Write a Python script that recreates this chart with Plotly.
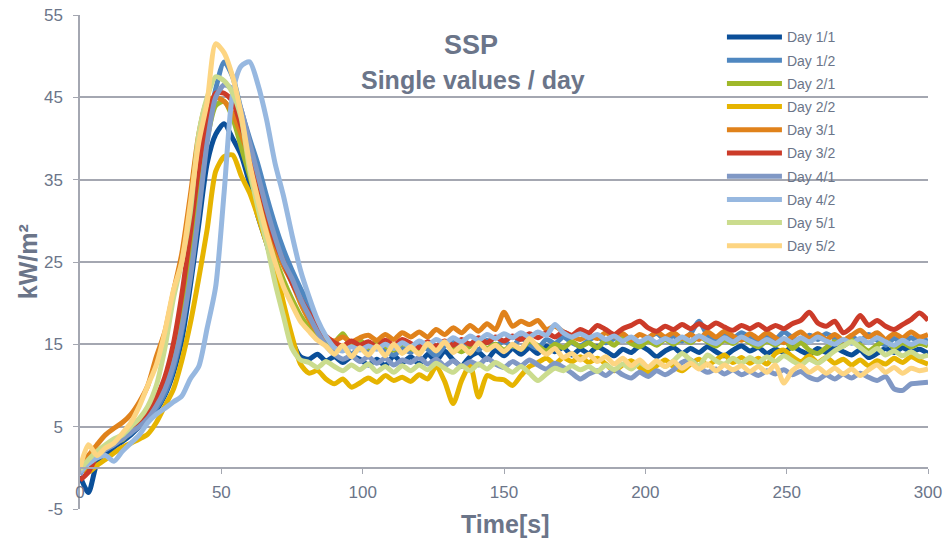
import plotly.graph_objects as go

# ---------------- data ----------------
TIME_S = list(range(0, 301, 3))

SERIES_NAMES = ["Day 1/1", "Day 1/2", "Day 2/1", "Day 2/2", "Day 3/1",
                "Day 3/2", "Day 4/1", "Day 4/2", "Day 5/1", "Day 5/2"]

DAY_1_1 = [
    -1.0, -3.0, 0.5, 1.5, 2.5, 3.2, 4.0, 5.0, 5.8, 7.0,
    8.8, 11.5, 15.5, 22.0, 29.5, 37.0, 40.5, 41.8, 40.0, 38.0,
    34.5, 30.5, 27.3, 23.5, 19.5, 15.5, 13.5, 13.2, 13.8, 13.0,
    13.5, 12.8, 13.5, 13.2, 12.5, 13.2, 12.4, 13.6, 12.8, 13.5,
    12.6, 13.8, 13.0, 14.2, 13.1, 12.4, 13.5, 14.0, 13.2, 14.3,
    13.6, 14.5, 13.8, 14.6, 13.9, 14.8, 14.1, 14.6, 13.7, 14.4,
    13.9, 14.7, 14.2, 13.6, 14.4, 14.0, 14.8, 14.3, 13.5, 14.2,
    14.6, 13.9, 14.5, 14.0, 14.7, 14.1, 13.6, 14.3, 14.8, 14.2,
    14.6, 13.9, 14.4, 14.0, 14.7, 14.2, 13.8, 14.5, 14.0, 14.6,
    14.1, 13.7, 14.3, 13.4, 13.9, 14.5, 14.0, 14.6, 14.1, 14.4,
    13.9,
]
DAY_1_2 = [
    -0.5, 1.0, 1.8, 2.2, 3.0, 3.6, 4.2, 5.2, 6.0, 7.2,
    9.0, 12.0, 16.5, 23.5, 32.0, 40.5, 46.0, 49.3, 47.5, 43.5,
    40.0, 36.8, 33.0, 29.5, 26.5, 24.0, 21.8, 19.8, 17.5, 15.6,
    14.2, 14.8, 13.8, 14.6, 14.0, 15.0, 14.3, 13.7, 14.5, 14.0,
    15.2, 14.4, 13.6, 14.8, 15.4, 14.6, 15.1, 14.3, 15.5, 14.8,
    15.4, 14.7, 15.8, 15.0, 14.5, 15.6, 15.1, 15.9, 15.2, 14.8,
    15.5, 16.0, 15.2, 15.7, 16.2, 15.5, 14.9, 15.8, 16.3, 15.6,
    16.0, 15.4, 16.3, 17.8, 16.1, 15.5, 16.2, 15.7, 16.4, 15.8,
    15.3, 16.0, 15.6, 16.5, 15.8, 15.2, 16.1, 15.6, 16.3, 15.7,
    15.2, 15.9, 15.4, 16.2, 15.5, 14.9, 15.7, 15.2, 15.8, 15.3,
    15.6,
]
DAY_2_1 = [
    -0.3, 1.2, 2.0, 2.6, 3.2, 3.4, 4.6, 5.5, 6.8, 8.5,
    10.5, 13.5, 18.5, 26.0, 33.5, 40.0, 44.0, 44.5, 42.5, 39.0,
    35.5, 32.0, 29.0, 25.5, 22.8, 20.5, 18.5, 17.0, 15.8, 15.0,
    15.2, 16.3, 14.8, 15.5, 14.6, 15.3, 14.8, 14.3, 15.1, 14.5,
    14.2, 14.9, 14.4, 15.2, 14.6, 14.1, 14.8, 15.3, 14.5, 15.0,
    14.3, 14.9, 14.4, 15.4, 14.8, 14.2, 15.0, 14.6, 15.3, 14.7,
    15.2, 14.6, 15.5, 14.9, 15.8, 15.1, 14.7, 15.4, 14.9, 15.6,
    15.0, 15.7, 15.2, 16.0, 15.3, 14.8, 15.5, 15.1, 15.8, 15.2,
    14.7, 15.4, 14.9, 15.6, 14.5, 15.2, 14.3, 13.9, 14.6, 15.3,
    14.8, 15.5, 14.9, 14.2, 14.9, 15.4, 14.6, 15.2, 14.7, 15.1,
    14.8,
]
DAY_2_2 = [
    0.0, -0.5, 0.3, 1.0, 1.8, 2.5, 3.0, 3.5, 4.1, 5.5,
    7.5, 9.5, 13.0, 17.5, 23.0, 29.0, 36.0, 37.8, 38.0, 35.5,
    33.4, 30.5, 27.3, 24.5, 20.0, 16.0, 12.6, 11.5, 11.8, 10.8,
    10.2, 10.8, 9.8, 10.3, 10.9, 10.4, 11.2, 10.6, 11.0, 10.5,
    11.3, 10.8, 12.3, 10.5, 7.8, 10.6, 12.5, 8.6, 11.2, 10.8,
    10.7, 10.0, 11.2, 12.3, 12.8, 13.3, 12.6, 13.4, 12.9, 13.5,
    12.8, 13.3, 12.6, 11.8, 12.5, 13.0, 12.2, 11.6, 12.4, 13.1,
    12.3, 11.8, 12.6, 13.2, 12.5, 13.1, 13.7, 12.8, 13.4, 12.7,
    13.3, 12.6, 13.9, 14.3, 13.5, 12.9, 13.6, 12.8, 13.4, 12.7,
    13.2, 12.5, 13.1, 12.4, 13.0, 12.6, 13.3, 12.8, 13.5, 13.0,
    12.6,
]
DAY_3_1 = [
    0.5, 1.5, 2.8, 4.0, 4.8, 5.5, 6.5, 8.0, 10.0, 13.5,
    16.5, 21.3, 26.0, 33.0, 40.5, 44.5, 45.0, 44.5, 43.0, 40.5,
    37.5, 34.0, 30.5, 27.0, 24.5, 22.5, 20.0, 18.0, 16.5, 15.8,
    15.4, 15.9, 15.3, 15.8, 16.1, 15.5, 16.2, 15.6, 16.4, 15.9,
    16.5, 15.9, 16.8, 16.2, 17.0, 16.4, 17.3, 16.6, 17.5, 16.8,
    18.9, 17.2, 17.8, 17.4, 17.9, 16.8, 17.2, 16.5, 16.0, 15.6,
    16.1, 15.7, 16.4, 15.9, 16.3, 15.5, 16.2, 15.8, 16.5, 15.9,
    16.4, 15.7, 16.2, 15.6, 16.5, 15.9, 16.6, 16.0, 15.5, 16.3,
    15.7, 16.4, 15.8, 15.2, 15.9, 16.5, 15.7, 16.3, 15.6, 16.2,
    15.5, 16.1, 16.7, 15.9, 16.4, 15.6, 16.3, 15.8, 16.5, 15.9,
    16.2,
]
DAY_3_2 = [
    -1.5, -0.5, 1.5, 2.5, 3.0, 3.8, 4.5, 5.5, 6.5, 8.5,
    11.0, 15.0, 21.0, 28.5, 36.5, 42.0, 45.5, 45.5, 44.5, 41.5,
    38.5, 35.0, 31.0, 27.5, 25.0, 22.5, 20.5, 18.8, 17.0, 16.0,
    15.2, 14.8, 15.4, 14.9, 15.3, 14.7, 15.5, 14.9, 15.6, 15.1,
    14.6, 15.3, 14.8, 15.4, 14.9, 15.6, 15.0, 15.8, 15.2, 15.9,
    15.4, 16.0, 15.6, 16.3, 15.8, 16.4, 15.9, 16.5, 16.1, 16.8,
    16.4, 17.3, 16.8, 16.2, 16.9, 17.3, 17.8, 17.0, 16.6, 17.2,
    16.8, 17.4, 16.9, 17.5, 17.0, 17.6, 17.1, 16.7, 17.3, 16.9,
    17.4, 16.8, 17.3, 16.9, 17.5, 17.9, 18.9, 17.6, 17.2, 17.8,
    16.4, 17.1, 18.5, 17.3, 17.9, 17.2, 16.8, 17.4, 18.0, 18.8,
    17.9,
]
DAY_4_1 = [
    -0.8, 0.8, 1.5, 2.2, 2.8, 3.5, 4.3, 5.0, 6.0, 7.5,
    9.5, 12.5, 17.0, 23.0, 31.0, 39.5, 45.0, 46.5, 46.0, 43.5,
    39.5, 35.5, 31.5, 28.0, 25.0, 23.0, 20.5, 18.5, 16.5, 14.8,
    13.8, 13.2, 13.6, 12.9, 13.5, 12.7, 13.3, 12.5, 13.1, 12.8,
    13.4, 12.6, 13.2, 12.4, 13.0, 12.3, 12.9, 12.5, 13.3, 12.6,
    12.2, 12.9, 12.4, 13.1, 12.5, 12.0, 12.7, 12.2, 11.5, 10.8,
    11.4, 11.8, 11.2, 11.9, 11.3, 10.9, 11.6, 11.1, 11.8, 11.3,
    11.9, 12.8, 13.1, 12.2, 11.6, 12.0, 11.4, 11.9, 11.3, 11.7,
    11.2, 11.8, 11.4, 11.9, 11.3, 11.7, 11.0, 10.7, 11.3, 10.8,
    11.4, 10.9, 11.5, 11.0, 10.6, 11.1, 9.6, 9.4, 10.2, 10.3,
    10.4,
]
DAY_4_2 = [
    -0.5, 0.5, 1.2, 1.5, 0.8, 2.0, 3.0, 4.0, 5.5, 6.5,
    7.2, 8.0, 8.7, 10.8, 12.3, 17.0, 22.0, 33.5, 45.5, 48.8,
    49.3, 46.5, 42.3, 37.0, 33.0, 28.3, 24.0, 20.8, 18.0, 16.0,
    14.6, 14.2, 14.7, 14.3, 14.8, 14.4, 15.0, 14.5, 15.2, 14.7,
    15.4, 14.9, 15.6, 15.1, 15.8, 15.3, 16.0, 15.5, 16.2, 15.7,
    16.3, 15.8, 16.4, 15.9, 16.5, 16.1, 17.4, 16.4, 15.9, 16.3,
    15.8, 16.2, 15.6, 16.0, 15.4, 15.9, 15.3, 15.8, 15.2, 15.7,
    15.3, 15.9, 15.4, 16.0, 15.5, 15.1, 15.8, 15.3, 15.9, 15.4,
    15.0, 15.6, 15.1, 15.7, 15.2, 15.8, 15.3, 15.9, 15.4, 15.0,
    15.6, 15.1, 15.7, 15.2, 15.8, 15.3, 14.9, 15.5, 15.0, 15.4,
    15.1,
]
DAY_5_1 = [
    -0.2, 1.0, 2.0, 2.8, 3.5, 4.0, 5.0, 6.0, 7.5, 10.0,
    14.5, 20.5, 25.0, 31.0, 40.5, 45.0, 47.5, 47.0, 45.5, 42.5,
    36.2, 31.5, 27.3, 22.5, 18.4, 14.5, 13.1, 12.8, 12.2, 12.9,
    12.3, 11.8, 12.5, 11.9, 12.6, 11.7, 12.3, 11.6, 12.4, 11.8,
    12.5, 11.9, 12.7, 12.1, 11.6, 12.4, 11.8, 12.6, 12.0, 12.8,
    12.2, 11.6, 12.3, 11.5, 10.6, 11.4, 12.1, 11.8, 12.4, 11.9,
    12.3, 11.7, 12.5, 11.9, 12.6, 12.0, 12.8, 12.2, 12.9, 12.3,
    13.0, 13.9, 13.1, 12.4, 13.7, 13.0, 12.6, 13.3, 12.7, 13.4,
    12.8, 13.5, 12.9, 13.6, 13.0, 12.5, 13.2, 12.7, 13.4, 14.2,
    14.8, 15.3, 14.6, 13.9, 14.5, 13.7, 14.2, 13.6, 14.1, 13.5,
    13.7,
]
DAY_5_2 = [
    0.0, 2.8, 1.5, 2.4, 3.0, 4.2, 5.5, 7.5, 10.0, 12.5,
    16.5, 21.5, 25.0, 32.0, 39.5, 44.5, 51.5, 50.4, 47.5, 43.0,
    37.0, 32.5, 28.5, 25.0, 22.0, 19.8, 17.8, 16.6, 15.5, 14.8,
    13.8, 14.9, 13.5, 14.6, 13.7, 14.8, 13.6, 15.0, 13.9, 14.7,
    13.8, 15.1, 14.2, 15.3, 14.0, 14.8, 13.9, 15.2, 14.3, 14.9,
    14.1, 15.0, 14.4, 15.7, 14.6, 13.8, 14.5, 13.4, 13.9, 13.1,
    13.8, 12.9, 13.5, 12.6, 13.3, 12.4, 13.1, 12.2, 13.0, 12.3,
    12.9, 12.1, 12.7, 12.0, 12.6, 11.8, 12.5, 11.9, 12.4, 11.7,
    12.3, 11.6, 12.5, 10.3, 11.8, 12.4, 11.6, 12.2, 11.5, 12.1,
    11.4, 12.0, 11.2, 11.9, 12.5, 11.6, 12.2, 11.5, 12.1, 11.8,
    12.0,
]

SERIES_VALUES = [DAY_1_1, DAY_1_2, DAY_2_1, DAY_2_2, DAY_3_1,
                 DAY_3_2, DAY_4_1, DAY_4_2, DAY_5_1, DAY_5_2]

X_TICKS = [0, 50, 100, 150, 200, 250, 300]
Y_TICKS = [-5, 5, 15, 25, 35, 45, 55]
Y_TICK_LABELS = ["-5", "5", "15", "25", "35", "45", "55"]

# ---------------- styling ----------------
COLORS = ["#0b4f99", "#4f87c0", "#9fb82a", "#e6b400", "#e0821b",
          "#cc3b29", "#8098c5", "#97b8e0", "#cbdc8e", "#fdd582"]
TEXT = "#6b7589"
GRID = "#a4a7b1"
FONT = "Liberation Sans, Arial, sans-serif"

fig = go.Figure()
for name, vals, col in zip(SERIES_NAMES, SERIES_VALUES, COLORS):
    fig.add_trace(go.Scatter(
        x=TIME_S, y=vals, name=name, mode="lines",
        line=dict(color=col, width=5, shape="spline", smoothing=0.7),
        legendgroup=name,
    ))

fig.update_layout(
    width=947, height=541,
    margin=dict(l=80, r=19, t=15, b=32, autoexpand=False),
    paper_bgcolor="white", plot_bgcolor="white",
    font=dict(family=FONT, color=TEXT),
    showlegend=True,
    legend=dict(
        x=0.757, y=0.987, xanchor="left", yanchor="top",
        font=dict(size=14, color=TEXT, family=FONT),
        bgcolor="rgba(0,0,0,0)", itemwidth=55, tracegroupgap=2,
    ),
    xaxis=dict(
        range=[0, 300], tickvals=X_TICKS, showgrid=False, zeroline=False,
        showline=True, linecolor=GRID, linewidth=1.5,
        ticks="outside", ticklen=5, tickcolor=GRID,
        tickfont=dict(size=17, color=TEXT, family=FONT),
        ticklabelstandoff=4,
        anchor="free", position=5 / 60, automargin=False,
    ),
    yaxis=dict(
        range=[-5, 55], tickvals=Y_TICKS, ticktext=Y_TICK_LABELS,
        showgrid=True, gridcolor=GRID, gridwidth=1.5, zeroline=False,
        showline=True, linecolor=GRID, linewidth=1.5,
        ticks="outside", ticklen=5, tickcolor=GRID,
        tickfont=dict(size=17, color=TEXT, family=FONT),
        ticklabelstandoff=7, automargin=False,
    ),
    annotations=[
        dict(text="<b>SSP</b>", x=0.461, y=0.94, xref="paper", yref="paper",
             showarrow=False, xanchor="center", yanchor="middle",
             font=dict(size=27, color=TEXT, family=FONT)),
        dict(text="<b>Single values / day</b>", x=0.463, y=0.869,
             xref="paper", yref="paper", showarrow=False,
             xanchor="center", yanchor="middle",
             font=dict(size=25, color=TEXT, family=FONT)),
        dict(text="<b>kW/m²</b>", x=-0.061, y=0.5, xref="paper", yref="paper",
             showarrow=False, textangle=-90, xanchor="center", yanchor="middle",
             font=dict(size=25, color=TEXT, family=FONT)),
        dict(text="<b>Time[s]</b>", x=0.501, y=-0.03, xref="paper",
             yref="paper", showarrow=False, xanchor="center", yanchor="middle",
             font=dict(size=25, color=TEXT, family=FONT)),
    ],
)

fig.write_html(
    "out.html",
    config={"displayModeBar": False},
    post_script="document.body.style.margin='0';"
                "document.body.style.overflow='hidden';",
)
